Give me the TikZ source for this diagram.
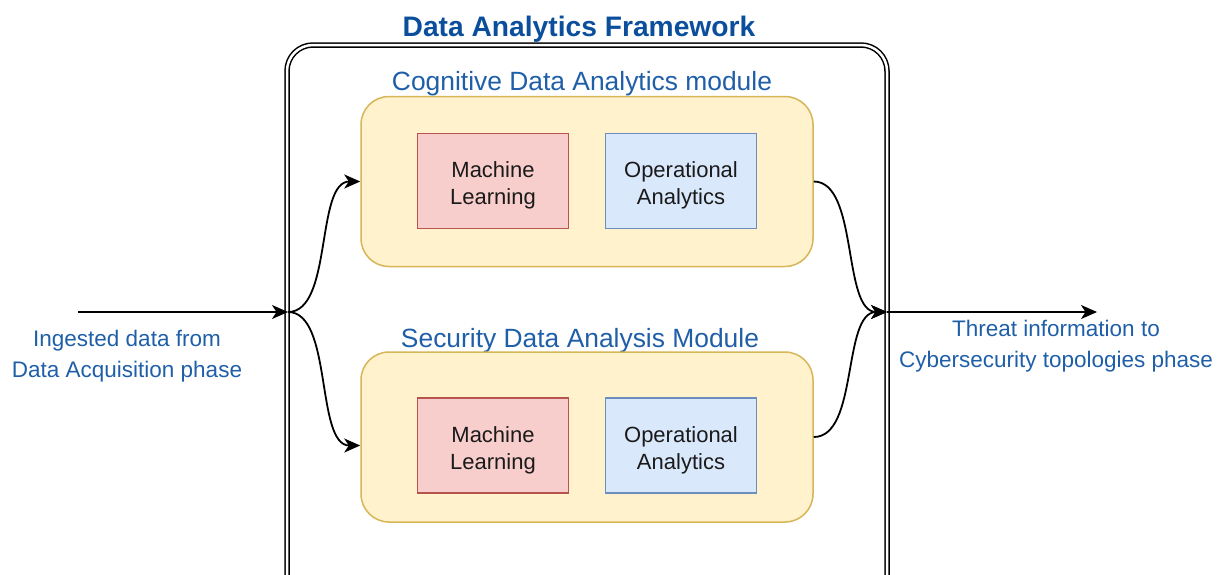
\documentclass[tikz,border=0pt]{standalone}
\usepackage{fontspec}
\setmainfont{Liberation Sans}
\usetikzlibrary{arrows.meta,calc}

\definecolor{titleblue}{HTML}{0B4F9C}
\definecolor{labelblue}{HTML}{1F5FA8}
\definecolor{modfill}{HTML}{FFF2CC}
\definecolor{moddraw}{HTML}{D6B656}
\definecolor{mlfill}{HTML}{F8CECC}
\definecolor{mldraw}{HTML}{B85450}
\definecolor{oafill}{HTML}{DAE8FC}
\definecolor{oadraw}{HTML}{6C8EBF}
\definecolor{bodytext}{HTML}{1A1A1A}

\begin{document}
\begin{tikzpicture}[x=1pt,y=-1pt,
  smalltext/.style={font=\fontsize{22.5}{31}\selectfont, text=labelblue, align=center, inner sep=0pt},
  modlabel/.style={font=\fontsize{26.4}{30}\selectfont, text=labelblue, inner sep=0pt},
  module/.style={draw=moddraw, fill=modfill, line width=1.5pt, rounded corners=28pt,
    minimum width=452pt, minimum height=170pt, inner sep=0pt},
  boxtext/.style={align=center, text=bodytext, font=\fontsize{22}{27}\selectfont,
    inner sep=0pt, yshift=-4.5pt},
  inner/.style={line width=1.5pt, minimum width=151pt, minimum height=95pt, inner sep=0pt},
  mlbox/.style={inner, draw=mldraw, fill=mlfill},
  oabox/.style={inner, draw=oadraw, fill=oafill},
  flow/.style={line width=1.8pt, -{Stealth[length=16pt,width=14pt,inset=4.5pt]}}
]
\useasboundingbox (0,0) rectangle (1225,574);
\clip (0,0) rectangle (1225,574);

% framework frame (continues past the lower edge)
\draw[line width=1.5pt, double=white, double distance=2.5pt, rounded corners=26pt]
  (287,45) rectangle (887,620);
\node[font=\bfseries\fontsize{28.2}{32}\selectfont, text=titleblue, inner sep=0pt] (title) at (579,29) {Data Analytics Framework};

% cognitive module
\node[modlabel] (cogl) at (582,84) {Cognitive Data Analytics module};
\node[module] (cog) at (587,181.5) {};
\node[mlbox, label={[boxtext]center:{Machine\\Learning}}] (ml1) at (493,181) {};
\node[oabox, label={[boxtext]center:{Operational\\Analytics}}] (oa1) at (681,181) {};

% security module
\node[modlabel] (secl) at (580,340.5) {Security Data Analysis Module};
\node[module] (sec) at (587,437) {};
\node[mlbox, label={[boxtext]center:{Machine\\Learning}}] (ml2) at (493,445.5) {};
\node[oabox, label={[boxtext]center:{Operational\\Analytics}}] (oa2) at (681,445.5) {};

% side labels
\node[smalltext] (inlbl) at (127,356) {Ingested data from\\Data Acquisition phase};
\node[smalltext] (outlbl) at (1056,346) {Threat information to\\Cybersecurity topologies phase};

% connectors
\coordinate (src) at (78,312);
\coordinate (jin) at (288,312);
\coordinate (jout) at (887,312);
\coordinate (dst) at (1097,312);
\coordinate (secin) at ($(sec.west)+(0,8.5)$);

\draw[flow] (src) -- (jin);
\draw[flow] (jin) .. controls +(45,0) and +(-45,0) .. (cog.west);
\draw[flow] (jin) .. controls +(45,0) and +(-45,0) .. (secin);
\draw[flow] (cog.east) .. controls +(45,0) and +(-45,0) .. (jout);
\draw[flow] (sec.east) .. controls +(45,0) and +(-45,0) .. (jout);
\draw[flow] (jout) -- (dst);
\end{tikzpicture}
\end{document}
